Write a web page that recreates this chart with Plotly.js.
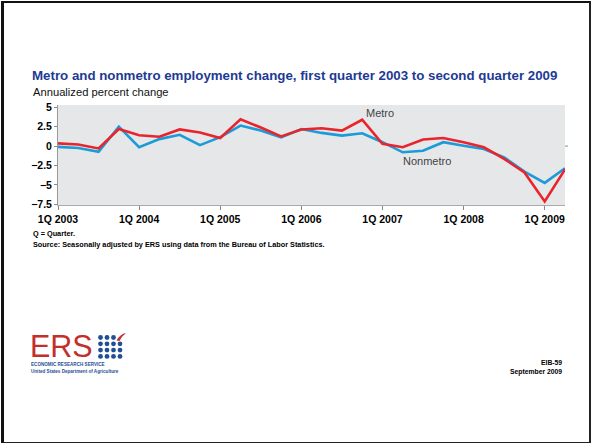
<!DOCTYPE html>
<html>
<head>
<meta charset="utf-8">
<script src="https://cdn.plot.ly/plotly-3.0.1.min.js"></script>
<style>
  html, body { margin: 0; padding: 0; background: #ffffff; }
  #wrap { position: relative; width: 591px; height: 444px; }
  #chart { width: 591px; height: 444px; }
  #frame { position: absolute; left: 1px; top: 1px; width: 590px; height: 442px; box-sizing: border-box;
           border-left: 3px solid #111; border-top: 2px solid #111; border-right: 2px solid #222; border-bottom: 1px solid #222;
           pointer-events: none; }
</style>
</head>
<body>
<div id="wrap">
  <div id="chart"></div>
  <div id="frame"></div>
</div>
<script>
// ---- Data ----
const quarters = [
  "1Q 2003", "2Q 2003", "3Q 2003", "4Q 2003",
  "1Q 2004", "2Q 2004", "3Q 2004", "4Q 2004",
  "1Q 2005", "2Q 2005", "3Q 2005", "4Q 2005",
  "1Q 2006", "2Q 2006", "3Q 2006", "4Q 2006",
  "1Q 2007", "2Q 2007", "3Q 2007", "4Q 2007",
  "1Q 2008", "2Q 2008", "3Q 2008", "4Q 2008",
  "1Q 2009", "2Q 2009"
];
const metro = [
  0.35, 0.2, -0.3, 2.2,
  1.4, 1.2, 2.15, 1.75,
  1.05, 3.45, 2.4, 1.25,
  2.15, 2.3, 2.0, 3.4,
  0.3, -0.15, 0.85, 1.05,
  0.5, -0.15, -1.65, -3.4,
  -7.15, -3.0
];
const nonmetro = [
  -0.1, -0.25, -0.75, 2.5,
  -0.15, 0.9, 1.45, 0.12,
  1.15, 2.65, 2.0, 1.12,
  2.2, 1.7, 1.35, 1.65,
  0.5, -0.8, -0.6, 0.5,
  0.05, -0.37, -1.45, -3.3,
  -4.75, -2.85
];
const xTickVals = ["1Q 2003", "1Q 2004", "1Q 2005", "1Q 2006", "1Q 2007", "1Q 2008", "1Q 2009"];
const yTickVals = [5, 2.5, 0, -2.5, -5, -7.5];
const yTickText = ["5", "2.5", "0", "\u22122.5", "\u22125", "\u22127.5"];

// ---- Geometry helpers (plot area pixel -> paper) ----
const M = { l: 58, r: 26, t: 105, b: 239 };
const W = 591, H = 444;
const PW = W - M.l - M.r, PH = H - M.t - M.b;
const px = x => (x - M.l) / PW;
const py = y => (H - M.b - y) / PH;

const FONT = "Liberation Sans, Arial, sans-serif";

const traces = [
  { x: quarters, y: nonmetro, type: "scatter", mode: "lines", name: "Nonmetro",
    line: { color: "#1b9bd7", width: 2.6 }, hoverinfo: "skip" },
  { x: quarters, y: metro, type: "scatter", mode: "lines", name: "Metro",
    line: { color: "#e8252d", width: 2.6 }, hoverinfo: "skip" }
];

// ---- Logo decoration shapes ----
const shapes = [
  { type: "line", xref: "paper", yref: "y", x0: 1, x1: px(M.l + PW + 3), y0: 0, y1: 0,
    line: { color: "#888", width: 1 } }
];
const dotCols = [100.5, 107, 113.5, 120];
const dotRows = [337.5, 343.8, 350.1, 356.4];
const r = 2.4;
dotRows.forEach((cy, ri) => {
  dotCols.forEach((cx, ci) => {
    if (ri === 0 && ci === 3) return;
    shapes.push({ type: "circle", xref: "paper", yref: "paper",
      x0: px(cx - r), x1: px(cx + r), y0: py(cy + r), y1: py(cy - r),
      fillcolor: "#1f4f95", line: { width: 0 } });
  });
});
shapes.push({ type: "path", xref: "paper", yref: "paper",
  path: `M ${px(116.5)} ${py(340.5)} Q ${px(120)} ${py(334)} ${px(126)} ${py(333)} Q ${px(122)} ${py(336)} ${px(119.5)} ${py(341)} Z`,
  fillcolor: "#c8302e", line: { width: 0 } });

const annotations = [
  { text: "Annualized percent change", xref: "paper", yref: "paper", x: px(31), y: py(91.5),
    xanchor: "left", yanchor: "middle", showarrow: false,
    font: { family: FONT, size: 11.2, color: "#111" } },
  { text: "Metro", xref: "x", yref: "y", x: 15.9, y: 4.3, showarrow: false,
    xanchor: "center", yanchor: "middle", font: { family: FONT, size: 11, color: "#444" } },
  { text: "Nonmetro", xref: "x", yref: "y", x: 18.2, y: -1.95, showarrow: false,
    xanchor: "center", yanchor: "middle", font: { family: FONT, size: 11, color: "#444" } },
  { text: "Q = Quarter.", xref: "paper", yref: "paper", x: px(31), y: py(233.5),
    xanchor: "left", yanchor: "middle", showarrow: false,
    font: { family: FONT, size: 7.3, color: "#000", weight: "bold" } },
  { text: "Source: Seasonally adjusted by ERS using data from the Bureau of Labor Statistics.",
    xref: "paper", yref: "paper", x: px(31), y: py(244.5),
    xanchor: "left", yanchor: "middle", showarrow: false,
    font: { family: FONT, size: 7.3, color: "#000", weight: "bold" } },
  { text: "ERS", xref: "paper", yref: "paper", x: px(29), y: py(346),
    xanchor: "left", yanchor: "middle", showarrow: false, borderpad: 0,
    font: { family: FONT, size: 30.5, color: "#c3302c" } },
  { text: "ECONOMIC RESEARCH SERVICE", xref: "paper", yref: "paper", x: px(30), y: py(364),
    xanchor: "left", yanchor: "middle", showarrow: false, borderpad: 0,
    font: { family: FONT, size: 4.6, color: "#1f4f95", weight: "bold" } },
  { text: "United States Department of Agriculture", xref: "paper", yref: "paper", x: px(30), y: py(371),
    xanchor: "left", yanchor: "middle", showarrow: false, borderpad: 0,
    font: { family: FONT, size: 4.6, color: "#1f4f95", weight: "bold" } },
  { text: "EIB-59", xref: "paper", yref: "paper", x: px(564), y: py(362.5),
    xanchor: "right", yanchor: "middle", showarrow: false,
    font: { family: FONT, size: 6.8, color: "#000", weight: "bold" } },
  { text: "September 2009", xref: "paper", yref: "paper", x: px(564), y: py(371.5),
    xanchor: "right", yanchor: "middle", showarrow: false,
    font: { family: FONT, size: 6.8, color: "#000", weight: "bold" } }
];

const layout = {
  width: W, height: H,
  margin: M,
  paper_bgcolor: "#ffffff",
  plot_bgcolor: "#e6e7e9",
  showlegend: false,
  title: {
    text: "Metro and nonmetro employment change, first quarter 2003 to second quarter 2009",
    xref: "container", yref: "container", x: 32 / W, y: 1 - 75 / H,
    xanchor: "left", yanchor: "middle",
    font: { family: FONT, size: 13.3, color: "#1e3a94", weight: "bold" }
  },
  xaxis: {
    type: "category", categoryorder: "array", categoryarray: quarters,
    range: [0, quarters.length - 1],
    tickmode: "array", tickvals: xTickVals, ticktext: xTickVals,
    ticks: "outside", ticklen: 4, tickwidth: 1, tickcolor: "#888",
    showline: true, linecolor: "#aaa", linewidth: 1,
    showgrid: false, zeroline: false,
    tickfont: { family: FONT, size: 10.5, color: "#000", weight: "bold" }
  },
  yaxis: {
    range: [-7.6, 5.3],
    tickmode: "array", tickvals: yTickVals, ticktext: yTickText,
    ticks: "outside", ticklen: 3, tickwidth: 1, tickcolor: "#888",
    showline: true, linecolor: "#999", linewidth: 1,
    showgrid: false, zeroline: false,
    tickfont: { family: FONT, size: 10.5, color: "#000", weight: "bold" }
  },
  shapes: shapes,
  annotations: annotations
};

Plotly.newPlot("chart", traces, layout, { displayModeBar: false, staticPlot: true });
</script>
</body>
</html>
